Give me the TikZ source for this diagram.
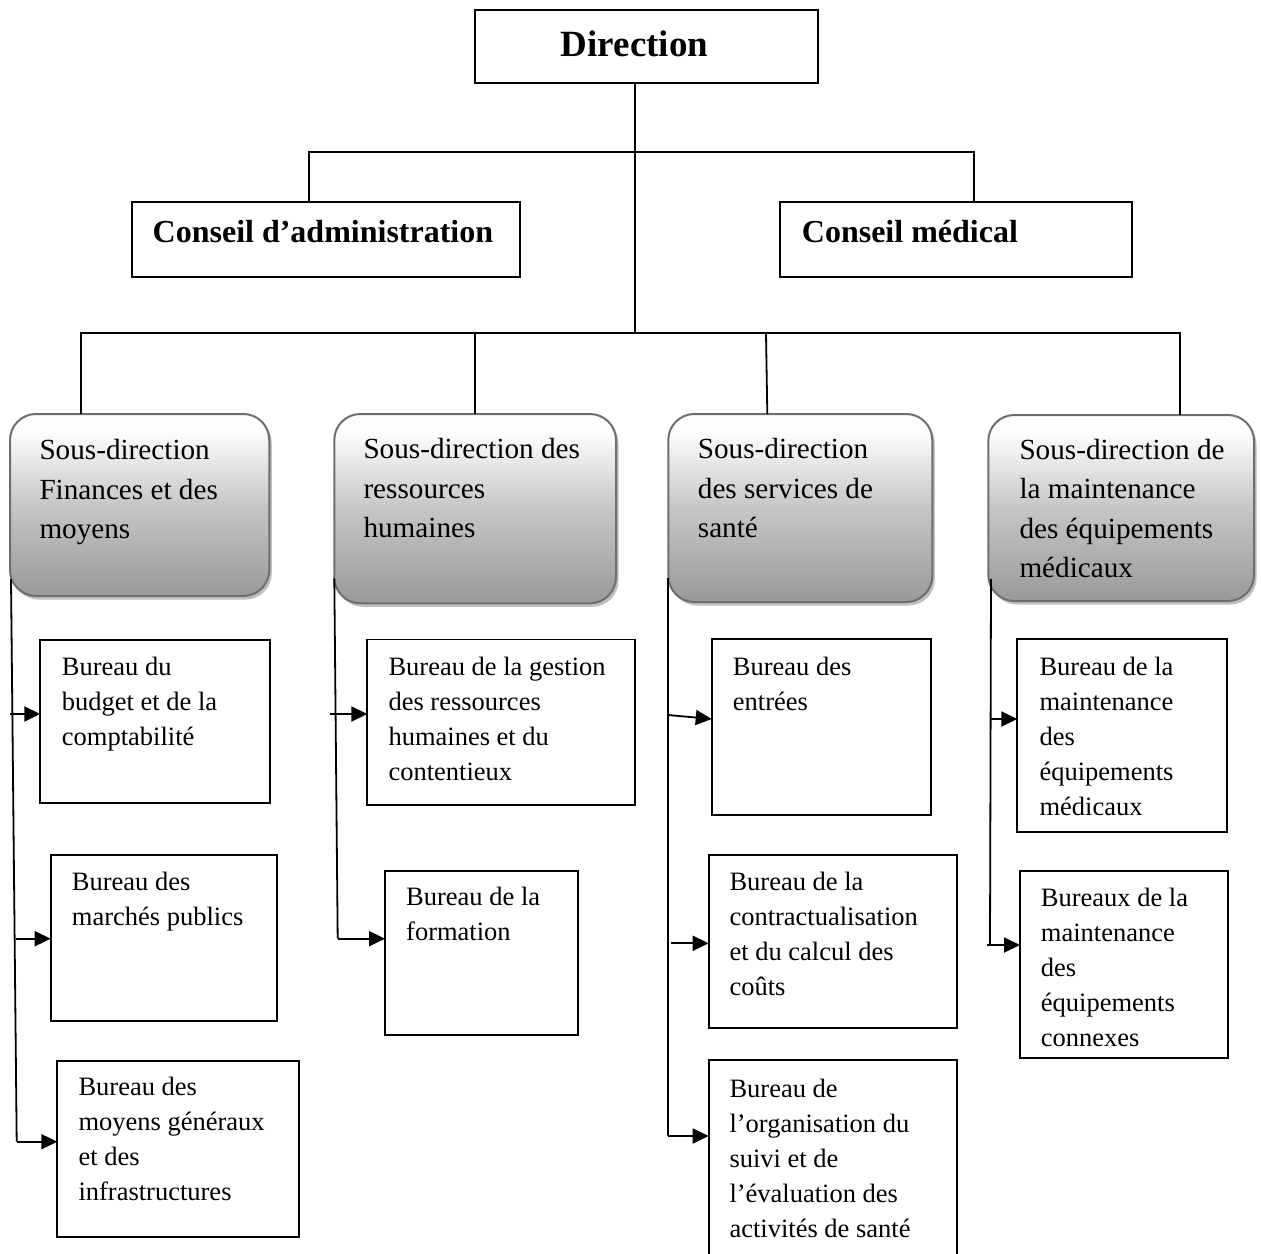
\documentclass[tikz,border=0pt]{standalone}
\usepackage{fontspec}
\setmainfont{Liberation Serif}
\usetikzlibrary{arrows.meta,shadows}
\definecolor{sdbot}{HTML}{999999}
\definecolor{sdmid}{HTML}{C6C6C6}
\definecolor{sdtop}{HTML}{FDFDFD}
\definecolor{sdedge}{HTML}{6E6E6E}
\pgfdeclareverticalshading{sdshade}{100bp}{color(0bp)=(sdbot); color(25bp)=(sdbot); color(50bp)=(sdmid); color(70bp)=(sdtop); color(100bp)=(sdtop)}
\newcommand{\mlines}[1]{\begin{tabular}[t]{@{}l@{}}#1\end{tabular}}
\tikzset{
  box/.style={draw, line width=1.9pt, anchor=north west, inner sep=0pt, outer sep=0pt},
  sdbox/.style={draw=sdedge, line width=2pt, rounded corners=26pt, shade, shading=sdshade,
    anchor=north west, inner sep=0pt, outer sep=0pt,
    drop shadow={shadow xshift=2.5pt, shadow yshift=-3.5pt, fill=black!28, opacity=0.9}},
  btxt/.style={anchor=base west, inner sep=0pt, font=\fontsize{26.5}{35}\selectfont},
  stxt/.style={anchor=base west, inner sep=0pt, font=\fontsize{29.2}{39.5}\selectfont},
  htxt/.style={anchor=base west, inner sep=0pt, font=\fontsize{32}{38}\selectfont\bfseries},
  link/.style={line width=1.8pt},
  arr/.style={line width=1.8pt, -{Triangle[length=16pt,width=15pt]}},
}
\begin{document}
\begin{tikzpicture}[x=1pt,y=-1pt]
\useasboundingbox (0,0) rectangle (1261,1253);

% top level
\node[box, minimum width=343pt, minimum height=72.7pt] (dir) at (475,10) {};
\node[anchor=base west, inner sep=0pt, font=\fontsize{37}{44}\selectfont\bfseries] (dirt) at (560.7,56.7) {Direction};
\node[box, minimum width=388.3pt, minimum height=75pt] (ca) at (132,201.7) {};
\node[htxt] (cat) at (152.5,242.5) {Conseil d’administration};
\node[box, minimum width=352.3pt, minimum height=75pt] (cm) at (779.7,201.7) {};
\node[htxt] (cmt) at (801.7,242.5) {Conseil médical};

% sous-directions
\node[sdbox, minimum width=259.3pt, minimum height=182pt] (sd1) at (10,414) {};
\node[stxt] (sd1t) at (39.3,459.5) {\mlines{Sous-direction\\Finances et des\\moyens}};
\node[sdbox, minimum width=281.7pt, minimum height=189.3pt] (sd2) at (334.3,414) {};
\node[stxt] (sd2t) at (363.3,458.5) {\mlines{Sous-direction des\\ressources\\humaines}};
\node[sdbox, minimum width=264pt, minimum height=188pt] (sd3) at (668.3,414) {};
\node[stxt] (sd3t) at (697.7,458.5) {\mlines{Sous-direction\\des services de\\santé}};
\node[sdbox, minimum width=265.7pt, minimum height=186pt] (sd4) at (988.3,415) {};
\node[stxt] (sd4t) at (1019.3,459) {\mlines{Sous-direction de\\la maintenance\\des équipements\\médicaux}};

% bureaux col 1
\node[box, minimum width=229.4pt, minimum height=163.3pt] (b11) at (40.3,640) {};
\node[btxt] (b11t) at (61.7,675) {\mlines{Bureau du\\budget et de la\\comptabilité}};
\node[box, minimum width=226pt, minimum height=166pt] (b12) at (50.7,854.7) {};
\node[btxt] (b12t) at (71.7,890) {\mlines{Bureau des\\marchés publics}};
\node[box, minimum width=242pt, minimum height=176.6pt] (b13) at (57.3,1060.7) {};
\node[btxt] (b13t) at (78.3,1095) {\mlines{Bureau des\\moyens généraux\\et des\\infrastructures}};

% bureaux col 2
\node[box, minimum width=268pt, minimum height=165.5pt] (b21) at (367.3,639.5) {};
\node[btxt] (b21t) at (388.3,675) {\mlines{Bureau de la gestion\\des ressources\\humaines et du\\contentieux}};
\node[box, minimum width=192.7pt, minimum height=164.3pt] (b22) at (385,870.7) {};
\node[btxt] (b22t) at (406,905) {\mlines{Bureau de la\\formation}};

% bureaux col 3
\node[box, minimum width=219.3pt, minimum height=175.7pt] (b31) at (711.7,639.3) {};
\node[btxt] (b31t) at (732.7,675) {\mlines{Bureau des\\entrées}};
\node[box, minimum width=248pt, minimum height=173.3pt] (b32) at (708.7,855) {};
\node[btxt] (b32t) at (729.3,890) {\mlines{Bureau de la\\contractualisation\\et du calcul des\\coûts}};
\node[box, minimum width=248pt, minimum height=210pt] (b33) at (708.7,1060) {};
\node[btxt] (b33t) at (729.3,1097.5) {\mlines{Bureau de\\l’organisation du\\suivi et de\\l’évaluation des\\activités de santé}};

% bureaux col 4
\node[box, minimum width=209.4pt, minimum height=192.3pt] (b41) at (1017.3,639.3) {};
\node[btxt] (b41t) at (1039.3,675.5) {\mlines{Bureau de la\\maintenance\\des\\équipements\\médicaux}};
\node[box, minimum width=208.3pt, minimum height=187pt] (b42) at (1020,871) {};
\node[btxt] (b42t) at (1040.7,906) {\mlines{Bureaux de la\\maintenance\\des\\équipements\\connexes}};

% tree connectors
\coordinate (hub) at (635,152);
\coordinate (hub2) at (635,333);
\coordinate (k1) at (309,152);
\coordinate (k2) at (974,152);
\coordinate (l1) at (80.7,333);
\coordinate (l2) at (475,333);
\coordinate (l3) at (766,333);
\coordinate (l4) at (1180,333);
\draw[link] (dir.south -| hub) -- (hub2);
\draw[link] (k1 |- ca.north) -- (k1) -- (k2) -- (k2 |- cm.north);
\draw[link] (l1 |- sd1.north) -- (l1) -- (l4) -- (l4 |- sd4.north);
\draw[link] (l2) -- (l2 |- sd2.north);
\draw[link] (l3) -- (767.3,414);

% column 1
\coordinate (c1a) at (11,579);
\coordinate (c1b) at (16.7,1141.7);
\coordinate (c1m1) at (10,714);
\coordinate (c1m2) at (15.7,938.7);
\draw[link] (c1a) -- (c1b);
\draw[arr] (c1b) -- (b13.west |- c1b);
\draw[arr] (c1m1) -- (b11.west |- c1m1);
\draw[arr] (c1m2) -- (b12.west |- c1m2);

% column 2
\coordinate (c2a) at (334.3,578.3);
\coordinate (c2b) at (337.7,938.7);
\coordinate (c2m1) at (330,714);
\draw[link] (c2a) -- (c2b);
\draw[arr] (c2b) -- (b22.west |- c2b);
\draw[arr] (c2m1) -- (b21.west |- c2m1);

% column 3
\coordinate (c3a) at (668.3,578);
\coordinate (c3b) at (668.3,1136);
\coordinate (c3m1) at (668.3,715);
\coordinate (c3m1e) at (711.7,719);
\coordinate (c3m2) at (671,943.3);
\draw[link] (c3a) -- (c3b);
\draw[arr] (c3b) -- (b33.west |- c3b);
\draw[arr] (c3m1) -- (c3m1e);
\draw[arr] (c3m2) -- (b32.west |- c3m2);

% column 4
\coordinate (c4a) at (991,579);
\coordinate (c4b) at (990,945);
\coordinate (c4m1) at (991,719);
\coordinate (c4m2) at (986.7,945);
\draw[link] (c4a) -- (c4b);
\draw[arr] (c4m1) -- (b41.west |- c4m1);
\draw[arr] (c4m2) -- (b42.west |- c4m2);
\end{tikzpicture}
\end{document}
